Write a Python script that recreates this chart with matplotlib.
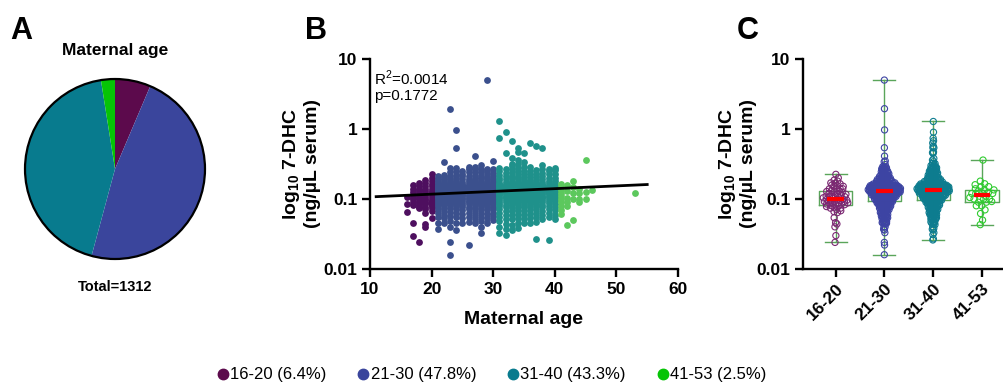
import numpy as np
import matplotlib
matplotlib.use('Agg')
import matplotlib.pyplot as plt
from matplotlib.lines import Line2D
from matplotlib.patches import Circle
from matplotlib.ticker import NullLocator, FixedLocator

plt.rcParams['font.family'] = ['Liberation Sans', 'DejaVu Sans']
plt.rcParams['mathtext.fontset'] = 'custom'
plt.rcParams['mathtext.rm'] = 'Liberation Sans'
plt.rcParams['mathtext.bf'] = 'Liberation Sans:bold'

# ---------------- data ----------------
groups = ['16-20', '21-30', '31-40', '41-53']
group_pct = [6.4, 47.8, 43.3, 2.5]
total_n = 1312

pie_colors = ['#5c0a4c', '#3a459c', '#087b8e', '#06c406']
scatter_colors = ['#4e0f5f', '#3b508d', '#1f918b', '#5cc85d']
swarm_colors = ['#7b2872', '#3d44a3', '#0d7c8f', '#2fcb2f']

v16 = [0.108, 0.085, 0.066]
v17 = [0.158, 0.14, 0.127, 0.115, 0.105, 0.1, 0.092, 0.083, 0.046, 0.030]
v18 = [0.17, 0.155, 0.14, 0.128, 0.118, 0.11, 0.102, 0.095, 0.088, 0.081, 0.077, 0.074,
       0.024]
v19 = [0.186, 0.168, 0.152, 0.14, 0.13, 0.121, 0.113, 0.106, 0.099, 0.096, 0.092, 0.088,
       0.085, 0.078, 0.071, 0.064, 0.044, 0.040]
v20 = [0.225, 0.2, 0.18, 0.165, 0.152, 0.141, 0.132, 0.124, 0.117, 0.11, 0.104, 0.098,
       0.095, 0.092, 0.089, 0.086, 0.083, 0.08, 0.074, 0.068, 0.054]
v21 = [0.037, 0.045, 0.055, 0.064, 0.072, 0.08, 0.086, 0.092, 0.097, 0.102, 0.107, 0.112,
       0.117, 0.122, 0.127, 0.13, 0.133, 0.136, 0.139, 0.142, 0.146, 0.15, 0.153, 0.16,
       0.17, 0.18, 0.195, 0.21]
v22 = [0.046, 0.053, 0.06, 0.068, 0.075, 0.082, 0.088, 0.094, 0.099, 0.104, 0.109, 0.114,
       0.119, 0.124, 0.128, 0.13, 0.133, 0.136, 0.139, 0.142, 0.145, 0.149, 0.152, 0.156,
       0.165, 0.176, 0.19, 0.205, 0.22, 0.34]
v23 = [0.016, 0.024, 0.04, 0.048, 0.057, 0.066, 0.074, 0.081, 0.087, 0.093, 0.098, 0.103,
       0.108, 0.113, 0.118, 0.124, 0.127, 0.13, 0.133, 0.136, 0.139, 0.143, 0.147, 0.15,
       0.154, 0.158, 0.168, 0.18, 0.195, 0.215, 0.245, 0.28, 1.95]
v24 = [0.036, 0.046, 0.055, 0.064, 0.072, 0.079, 0.085, 0.091, 0.096, 0.101, 0.106, 0.111,
       0.116, 0.121, 0.126, 0.129, 0.132, 0.135, 0.138, 0.142, 0.145, 0.148, 0.152, 0.156,
       0.16, 0.17, 0.182, 0.198, 0.22, 0.25, 0.28, 0.54, 0.97]
v25 = [0.046, 0.054, 0.062, 0.07, 0.077, 0.083, 0.089, 0.094, 0.099, 0.104, 0.109, 0.114,
       0.119, 0.124, 0.127, 0.13, 0.133, 0.136, 0.139, 0.142, 0.146, 0.149, 0.153, 0.157,
       0.166, 0.177, 0.19, 0.21, 0.23, 0.25]
v26 = [0.022, 0.047, 0.055, 0.063, 0.071, 0.078, 0.084, 0.09, 0.095, 0.1, 0.105, 0.11,
       0.115, 0.12, 0.125, 0.128, 0.131, 0.134, 0.137, 0.14, 0.144, 0.147, 0.151, 0.155,
       0.159, 0.168, 0.18, 0.195, 0.215, 0.24, 0.265, 0.29]
v27 = [0.045, 0.052, 0.06, 0.068, 0.075, 0.082, 0.088, 0.093, 0.098, 0.103, 0.108, 0.113,
       0.118, 0.123, 0.126, 0.129, 0.132, 0.135, 0.138, 0.141, 0.145, 0.148, 0.151, 0.155,
       0.163, 0.173, 0.186, 0.2, 0.22, 0.245, 0.27, 0.29, 0.41]
v28 = [0.033, 0.04, 0.048, 0.056, 0.064, 0.072, 0.079, 0.085, 0.091, 0.096, 0.101, 0.106,
       0.111, 0.116, 0.121, 0.126, 0.129, 0.132, 0.135, 0.138, 0.141, 0.145, 0.149, 0.152,
       0.156, 0.16, 0.17, 0.182, 0.197, 0.215, 0.24, 0.27, 0.31]
v29 = [0.046, 0.053, 0.061, 0.069, 0.076, 0.083, 0.089, 0.094, 0.099, 0.104, 0.109, 0.114,
       0.119, 0.124, 0.127, 0.13, 0.133, 0.136, 0.139, 0.142, 0.145, 0.149, 0.153, 0.157,
       0.166, 0.177, 0.19, 0.207, 0.23, 0.255, 0.27, 5.0]
v30 = [0.05, 0.057, 0.064, 0.071, 0.078, 0.084, 0.09, 0.095, 0.1, 0.105, 0.11, 0.115,
       0.12, 0.125, 0.128, 0.131, 0.134, 0.137, 0.14, 0.143, 0.147, 0.15, 0.154, 0.158,
       0.167, 0.178, 0.192, 0.21, 0.235, 0.27, 0.35]
v31 = [0.033, 0.04, 0.048, 0.056, 0.064, 0.072, 0.079, 0.086, 0.092, 0.098, 0.103, 0.108,
       0.113, 0.118, 0.123, 0.128, 0.131, 0.134, 0.137, 0.14, 0.144, 0.147, 0.15, 0.154,
       0.158, 0.162, 0.172, 0.184, 0.2, 0.22, 0.25, 0.28, 0.74, 1.28]
v32 = [0.031, 0.037, 0.044, 0.052, 0.06, 0.068, 0.076, 0.083, 0.09, 0.096, 0.102, 0.107,
       0.112, 0.117, 0.122, 0.128, 0.131, 0.134, 0.137, 0.14, 0.143, 0.147, 0.151, 0.155,
       0.159, 0.164, 0.175, 0.19, 0.21, 0.235, 0.27, 0.46, 0.9]
v33 = [0.036, 0.043, 0.051, 0.059, 0.067, 0.075, 0.082, 0.089, 0.095, 0.101, 0.106, 0.111,
       0.116, 0.121, 0.126, 0.13, 0.133, 0.136, 0.139, 0.142, 0.145, 0.149, 0.152, 0.156,
       0.16, 0.17, 0.182, 0.197, 0.215, 0.24, 0.27, 0.3, 0.32, 0.38, 0.68]
v34 = [0.038, 0.046, 0.054, 0.062, 0.07, 0.078, 0.085, 0.092, 0.098, 0.104, 0.109, 0.114,
       0.119, 0.124, 0.13, 0.133, 0.136, 0.139, 0.142, 0.145, 0.149, 0.153, 0.157, 0.161,
       0.166, 0.177, 0.19, 0.206, 0.225, 0.25, 0.28, 0.32, 0.36, 0.47, 0.54]
v35 = [0.045, 0.052, 0.06, 0.068, 0.076, 0.083, 0.09, 0.096, 0.102, 0.107, 0.112, 0.117,
       0.122, 0.128, 0.131, 0.134, 0.137, 0.14, 0.143, 0.147, 0.151, 0.155, 0.159, 0.164,
       0.175, 0.188, 0.205, 0.225, 0.25, 0.29, 0.34, 0.45]
v36 = [0.046, 0.053, 0.061, 0.069, 0.077, 0.084, 0.09, 0.096, 0.101, 0.106, 0.111, 0.116,
       0.121, 0.127, 0.13, 0.133, 0.136, 0.139, 0.142, 0.146, 0.15, 0.154, 0.158, 0.163,
       0.174, 0.187, 0.203, 0.225, 0.255, 0.29, 0.63]
v37 = [0.027, 0.047, 0.055, 0.063, 0.071, 0.079, 0.086, 0.092, 0.098, 0.103, 0.108, 0.113,
       0.118, 0.124, 0.128, 0.131, 0.134, 0.137, 0.14, 0.143, 0.147, 0.151, 0.155, 0.16,
       0.171, 0.185, 0.205, 0.23, 0.26, 0.57]
v38 = [0.052, 0.06, 0.068, 0.076, 0.083, 0.09, 0.096, 0.102, 0.107, 0.112, 0.117, 0.122,
       0.128, 0.131, 0.134, 0.137, 0.14, 0.144, 0.147, 0.151, 0.155, 0.16, 0.164, 0.175,
       0.19, 0.21, 0.235, 0.27, 0.31, 0.54]
v39 = [0.026, 0.056, 0.064, 0.072, 0.08, 0.087, 0.094, 0.1, 0.106, 0.111, 0.116, 0.121,
       0.127, 0.13, 0.133, 0.136, 0.14, 0.144, 0.148, 0.152, 0.157, 0.168, 0.182, 0.2,
       0.225, 0.25, 0.27]
v40 = [0.051, 0.06, 0.069, 0.078, 0.086, 0.093, 0.1, 0.106, 0.112, 0.118, 0.125, 0.129,
       0.132, 0.136, 0.14, 0.145, 0.15, 0.155, 0.162, 0.178, 0.2, 0.23, 0.26, 0.28]
v41 = [0.062, 0.07, 0.08, 0.09, 0.1, 0.11, 0.12, 0.135, 0.15, 0.165]
v42 = [0.043, 0.08, 0.092, 0.105, 0.13, 0.16]
v43 = [0.05, 0.1, 0.12, 0.15, 0.18]
v44 = [0.09, 0.1, 0.12, 0.14]
v45 = [0.1, 0.125, 0.36]
v46 = [0.135]
v53 = [0.12]

ages = [16, 17, 18, 19, 20, 21, 22, 23, 24, 25, 26, 27, 28, 29, 30, 31, 32, 33, 34, 35,
        36, 37, 38, 39, 40, 41, 42, 43, 44, 45, 46, 53]
age_values = [v16, v17, v18, v19, v20, v21, v22, v23, v24, v25, v26, v27, v28, v29, v30,
              v31, v32, v33, v34, v35, v36, v37, v38, v39, v40, v41, v42, v43, v44, v45,
              v46, v53]
group_bounds = [(16, 20), (21, 30), (31, 40), (41, 53)]

fit_age = [11, 55]
fit_value = [0.108, 0.161]
stats_lines = ['R$^{\\mathrm{2}}$=0.0014', 'p=0.1772']

yticks = [0.01, 0.1, 1, 10]
ytick_labels = ['0.01', '0.1', '1', '10']
xticks_b = [10, 20, 30, 40, 50, 60]


def group_index(age):
    for gi, (lo, hi) in enumerate(group_bounds):
        if lo <= age <= hi:
            return gi
    return 0


W, H = 1004, 386
fig = plt.figure(figsize=(W / 100, H / 100), dpi=100)


def style_axis(ax):
    for s in ['top', 'right']:
        ax.spines[s].set_visible(False)
    for s in ['left', 'bottom']:
        ax.spines[s].set_linewidth(1.7)
    ax.tick_params(direction='out', length=6, width=1.7, labelsize=12.5, pad=3)
    for lab in ax.get_xticklabels() + ax.get_yticklabels():
        lab.set_fontweight('bold')


# ---------------- Panel A ----------------
cx, cy, r = 115, 169, 90
axA = fig.add_axes([(cx - 100) / W, 1 - (cy + 100) / H, 200 / W, 200 / H])
axA.pie(group_pct, colors=pie_colors, startangle=90, counterclock=False,
        wedgeprops=dict(linewidth=0), radius=1)
axA.add_patch(Circle((0, 0), 1, fill=False, lw=1.6, ec='black'))
axA.set_xlim(-100 / r, 100 / r)
axA.set_ylim(-100 / r, 100 / r)
axA.set_aspect('equal')
axA.axis('off')
fig.text(cx / W, 1 - 50 / H, 'Maternal age', ha='center', va='center',
         fontsize=12.5, fontweight='bold')
fig.text(cx / W, 1 - 287 / H, 'Total=%d' % total_n, ha='center', va='center',
         fontsize=10.5, fontweight='bold')

# ---------------- Panel B ----------------
axB = fig.add_axes([370 / W, 1 - 269 / H, (678 - 370) / W, 210 / H])
for age, vals in zip(ages, age_values):
    gi = group_index(age)
    axB.scatter([age] * len(vals), vals, s=24, color=scatter_colors[gi],
                linewidths=0, zorder=2)
axB.plot(fit_age, fit_value, color='black', lw=2, zorder=3)
axB.set_yscale('log')
axB.set_ylim(0.01, 10)
axB.set_xlim(10, 60)
axB.yaxis.set_major_locator(FixedLocator(yticks))
axB.yaxis.set_minor_locator(NullLocator())
axB.set_yticklabels(ytick_labels)
axB.set_xticks(xticks_b)
axB.set_xticklabels([str(t) for t in xticks_b])
style_axis(axB)
axB.set_xlabel('Maternal age', fontsize=14, fontweight='bold')
axB.xaxis.set_label_coords(0.5, -0.2)
axB.xaxis.label.set_va('top')
axB.set_ylabel('log$_{\\mathbf{10}}$ 7-DHC\n(ng/µL serum)', fontsize=14,
               fontweight='bold', linespacing=1.1)
axB.yaxis.set_label_coords(-0.16, 0.5)
axB.text(0.012, 0.955, '\n'.join(stats_lines), transform=axB.transAxes,
         ha='left', va='top', fontsize=11, linespacing=1.15)

# ---------------- Panel C ----------------
axC = fig.add_axes([803 / W, 1 - 269 / H, (1004 - 803) / W, 210 / H])
group_data = [[] for _ in groups]
for age, vals in zip(ages, age_values):
    group_data[group_index(age)].extend(vals)


def swarm_offsets(vals, halfwidth):
    lv = np.log10(np.asarray(vals))
    order = np.argsort(lv)
    bw = 0.06
    d = np.exp(-0.5 * ((lv[:, None] - lv[None, :]) / bw) ** 2).sum(1)
    w = halfwidth * d / d.max()
    offs = np.zeros(len(lv))
    for k, i in enumerate(order):
        frac = (k * 0.6180339887) % 1.0
        offs[i] = w[i] * (2 * frac - 1)
    return offs


box_col = '#5aa55a'
axC.boxplot(group_data, positions=range(len(groups)), widths=0.68, whis=(0, 100),
            showfliers=False, manage_ticks=False, patch_artist=False,
            boxprops=dict(color=box_col, lw=1.0),
            whiskerprops=dict(color=box_col, lw=1.0),
            capprops=dict(color=box_col, lw=1.0),
            medianprops=dict(visible=False), capwidths=0.45, zorder=1)
halfwidths = [0.27, 0.34, 0.34, 0.28]
for gi, vals in enumerate(group_data):
    offs = swarm_offsets(vals, halfwidths[gi])
    axC.scatter(gi + offs, vals, s=20, facecolors='none',
                edgecolors=swarm_colors[gi], linewidths=0.8, zorder=3)
    m = np.median(vals)
    axC.hlines(m, gi - 0.17, gi + 0.17, color='red', lw=3, zorder=5)
axC.set_yscale('log')
axC.set_ylim(0.01, 10)
axC.set_xlim(-0.67, 3.45)
axC.yaxis.set_major_locator(FixedLocator(yticks))
axC.yaxis.set_minor_locator(NullLocator())
axC.set_yticklabels(ytick_labels)
axC.set_xticks(range(len(groups)))
axC.set_xticklabels(groups, rotation=45, ha='right', rotation_mode='anchor')
style_axis(axC)
axC.set_ylabel('log$_{\\mathbf{10}}$ 7-DHC\n(ng/µL serum)', fontsize=14,
               fontweight='bold', linespacing=1.1)
axC.yaxis.set_label_coords(-0.23, 0.5)

# ---------------- panel letters ----------------
for letter, x in [('A', 10), ('B', 305), ('C', 737)]:
    fig.text(x / W, 1 - 31 / H, letter, fontsize=22, fontweight='bold',
             ha='left', va='center')

# ---------------- legend ----------------
handles = [Line2D([], [], marker='o', ls='', color=c, markersize=7.5) for c in pie_colors]
labels = ['%s (%.1f%%)' % (g, p) for g, p in zip(groups, group_pct)]
fig.legend(handles, labels, loc='center', bbox_to_anchor=(0.49, 1 - 375 / H), ncol=4,
           frameon=False, fontsize=12, handlelength=0.6, handletextpad=0.15,
           columnspacing=1.9, borderpad=0)

fig.savefig('out.png', dpi=100)
